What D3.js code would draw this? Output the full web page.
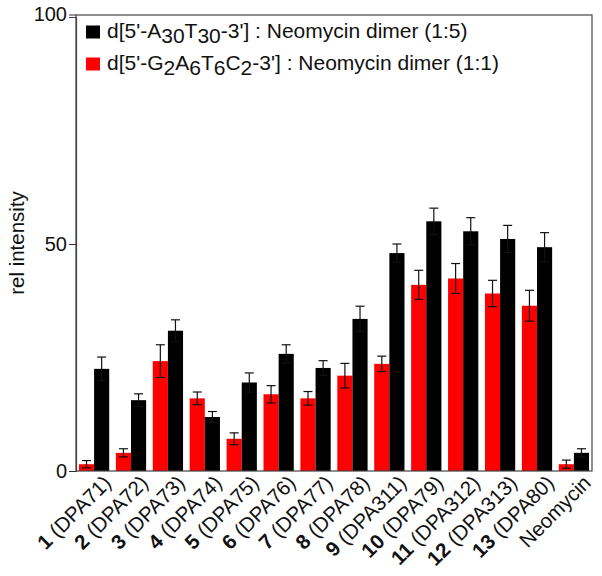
<!DOCTYPE html>
<html><head><meta charset="utf-8">
<script src="https://cdn.jsdelivr.net/npm/d3@7"></script>
<style>body{margin:0;background:#fff}svg{display:block;font-family:"Liberation Sans",Arial,sans-serif}</style>
</head><body><svg id="c" width="602" height="576"></svg>
<script>
const categories = [
  {num:"1", name:"(DPA71)"},{num:"2", name:"(DPA72)"},{num:"3", name:"(DPA73)"},
  {num:"4", name:"(DPA74)"},{num:"5", name:"(DPA75)"},{num:"6", name:"(DPA76)"},
  {num:"7", name:"(DPA77)"},{num:"8", name:"(DPA78)"},{num:"9", name:"(DPA311)"},
  {num:"10", name:"(DPA79)"},{num:"11", name:"(DPA312)"},{num:"12", name:"(DPA313)"},
  {num:"13", name:"(DPA80)"},{num:"", name:"Neomycin"}
];
const redValues   = [1.5, 4.0, 24.2, 16.0, 7.1, 16.9, 16.0, 21.0, 23.6, 41.0, 42.4, 39.1, 36.4, 1.5];
const redErrors   = [0.8, 0.9, 3.6, 1.4, 1.3, 1.9, 1.5, 2.7, 1.7, 3.2, 3.3, 2.9, 3.4, 0.9];
const blackValues = [22.5, 15.6, 30.9, 11.9, 19.5, 25.8, 22.7, 33.5, 48.0, 55.0, 52.8, 51.1, 49.3, 4.0];
const blackErrors = [2.6, 1.4, 2.4, 1.2, 2.1, 2.0, 1.6, 2.8, 2.0, 2.9, 3.0, 3.0, 3.2, 0.9];
const yTicks = [0, 50, 100];

const svg = d3.select("#c");
const L = 76, R = 592, T = 15, B = 471;
const x0 = d3.scaleBand().domain(d3.range(categories.length)).range([L, R]).paddingInner(0.18).paddingOuter(0.08);
const x1 = d3.scaleBand().domain(["red","black"]).range([0, x0.bandwidth()]);
const y = d3.scaleLinear().domain([0, 100]).range([B, 17]);
const color = {red:"#ff0000", black:"#000000"};

const series = [
  {key:"red", vals:redValues, errs:redErrors},
  {key:"black", vals:blackValues, errs:blackErrors}
];
series.forEach(s => {
  const g = svg.append("g");
  g.selectAll("rect").data(s.vals).join("rect")
    .attr("x", (d,i) => x0(i) + x1(s.key))
    .attr("y", d => y(d))
    .attr("width", x1.bandwidth())
    .attr("height", d => B - y(d))
    .attr("fill", color[s.key]);
  const e = svg.append("g").attr("stroke", "#111").attr("stroke-width", 1.2);
  s.vals.forEach((v,i) => {
    const cx = x0(i) + x1(s.key) + x1.bandwidth()/2;
    const y1 = y(v + s.errs[i]), y2 = y(Math.max(0, v - s.errs[i]));
    e.append("line").attr("x1", cx).attr("x2", cx).attr("y1", y1).attr("y2", y2);
    e.append("line").attr("x1", cx-4.5).attr("x2", cx+4.5).attr("y1", y1).attr("y2", y1);
    e.append("line").attr("x1", cx-4.5).attr("x2", cx+4.5).attr("y1", y2).attr("y2", y2);
  });
});

svg.append("rect").attr("x", L).attr("y", T).attr("width", R-L).attr("height", B-T)
  .attr("fill", "none").attr("stroke", "#444").attr("stroke-width", 1.2);

const yAxis = d3.axisLeft(y).tickValues(yTicks).tickSize(7).tickPadding(2);
const ya = svg.append("g").attr("transform", `translate(${L},0)`).call(yAxis);
ya.select(".domain").attr("stroke", "#444").attr("stroke-width", 1.2);
ya.selectAll(".tick line").attr("stroke", "#333");
ya.selectAll(".tick text").attr("font-size", 20).attr("fill", "#111").attr("font-family", "Liberation Sans, Arial, sans-serif");
ya.selectAll(".tick").filter(d => d === 100).attr("transform", `translate(0,${T})`);

svg.append("text").attr("transform", "translate(24,243) rotate(-90)")
  .attr("text-anchor", "middle").attr("font-size", 20.5).attr("fill", "#111").text("rel intensity");

const xl = svg.append("g");
categories.forEach((c,i) => {
  const cx = x0(i) + x0.bandwidth()/2 + 11;
  const t = xl.append("text").attr("transform", `translate(${cx},${B+6}) rotate(-45)`)
    .attr("text-anchor", "end").attr("font-size", 20.5).attr("fill", "#111").attr("dy", "0.5em");
  if (c.num) {
    t.append("tspan").attr("font-weight", "bold").text(c.num);
    t.append("tspan").text(" " + c.name);
  } else {
    t.append("tspan").text(c.name);
  }
});

const leg = svg.append("g");
const legItems = [
  {key:"black", parts:[["d[5'-A",0],["30",1],["T",0],["30",1],["-3'] : Neomycin dimer (1:5)",0]]},
  {key:"red", parts:[["d[5'-G",0],["2",1],["A",0],["6",1],["T",0],["6",1],["C",0],["2",1],["-3'] : Neomycin dimer (1:1)",0]]}
];
legItems.forEach((it,k) => {
  const yy = 38 + k*32;
  leg.append("rect").attr("x", 86).attr("y", yy-12.5).attr("width", 14).attr("height", 13).attr("fill", color[it.key]);
  const t = leg.append("text").attr("x", 107).attr("y", yy).attr("font-size", 21).attr("fill", "#111");
  let prevSub = false;
  it.parts.forEach(([s, sub]) => {
    const ts = t.append("tspan").text(s);
    if (sub && !prevSub) ts.attr("dy", 5);
    if (!sub && prevSub) ts.attr("dy", -5);
    prevSub = !!sub;
  });
});
</script></body></html>
